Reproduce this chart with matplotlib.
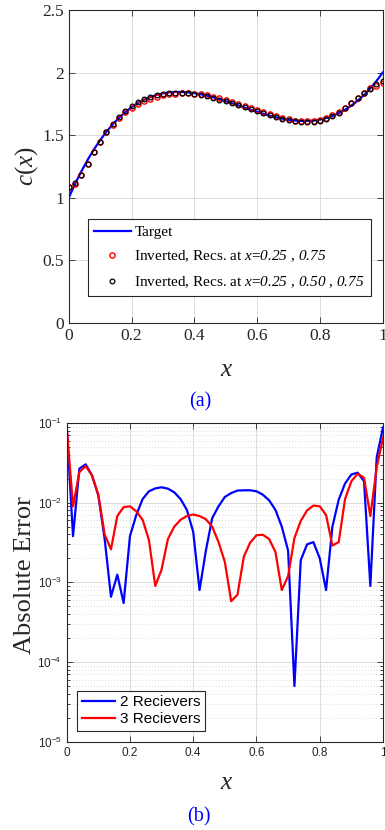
import math

import matplotlib
matplotlib.use("Agg")
import matplotlib.pyplot as plt
import matplotlib.ticker as mticker

plt.rcParams["mathtext.fontset"] = "custom"
plt.rcParams["mathtext.rm"] = "Liberation Serif"
plt.rcParams["mathtext.it"] = "Liberation Serif:italic"
plt.rcParams["mathtext.sf"] = "Liberation Serif:italic"   # used for italic digits in legend

AX_COLOR = "#262626"
GRID = "#DCDCDC"
BLUE = "#0000FF"
RED = "#FF0000"

# grid of sample points (step 0.02)
x_pts = [i / 50 for i in range(51)]

# target profile c(x)
c_target = [1.000, 1.110, 1.210, 1.302, 1.385, 1.460, 1.527, 1.586, 1.638, 1.684,
            1.723, 1.756, 1.783, 1.805, 1.822, 1.834, 1.842, 1.845, 1.845, 1.842,
            1.836, 1.827, 1.816, 1.803, 1.788, 1.772, 1.755, 1.738, 1.721, 1.703,
            1.687, 1.671, 1.656, 1.643, 1.632, 1.623, 1.617, 1.614, 1.614, 1.617,
            1.625, 1.637, 1.654, 1.676, 1.703, 1.736, 1.775, 1.820, 1.873, 1.932,
            2.000]

# inverted, receivers at x=0.25, 0.75 (red circles)
c_inv2 = [1.090, 1.114, 1.184, 1.272, 1.363, 1.447, 1.523, 1.585, 1.640, 1.685,
          1.719, 1.749, 1.772, 1.791, 1.807, 1.818, 1.827, 1.832, 1.834, 1.834,
          1.831, 1.826, 1.818, 1.809, 1.797, 1.784, 1.769, 1.752, 1.735, 1.718,
          1.701, 1.684, 1.667, 1.651, 1.637, 1.626, 1.617, 1.612, 1.611, 1.614,
          1.623, 1.638, 1.659, 1.687, 1.720, 1.758, 1.799, 1.839, 1.874, 1.896,
          1.916]

# inverted, receivers at x=0.25, 0.50, 0.75 (black circles)
c_inv3 = [1.090, 1.119, 1.186, 1.273, 1.363, 1.447, 1.523, 1.589, 1.645, 1.693,
          1.732, 1.764, 1.789, 1.809, 1.823, 1.833, 1.838, 1.840, 1.839, 1.835,
          1.829, 1.820, 1.810, 1.798, 1.785, 1.770, 1.755, 1.739, 1.723, 1.707,
          1.691, 1.675, 1.660, 1.646, 1.633, 1.622, 1.613, 1.608, 1.606, 1.608,
          1.616, 1.630, 1.651, 1.679, 1.714, 1.754, 1.798, 1.841, 1.866, 1.905,
          1.935]

# absolute error, 2 receivers (blue) and 3 receivers (red)
err_2rec = [0.09, 0.0038, 0.0267, 0.0303, 0.022, 0.0123, 0.0035, 0.00066, 0.00125, 0.00055,
            0.0038, 0.007, 0.0111, 0.0139, 0.0151, 0.0156, 0.015, 0.0135, 0.0111, 0.0081,
            0.0043, 0.0008, 0.0025, 0.0064, 0.009, 0.0118, 0.0132, 0.0142, 0.0143, 0.0143,
            0.0139, 0.0126, 0.0107, 0.0081, 0.005, 0.0025, 0.00005, 0.0019, 0.003, 0.0032,
            0.002, 0.0008, 0.005, 0.0109, 0.0174, 0.0226, 0.0238, 0.0186, 0.0009, 0.0367,
            0.088]
err_3rec = [0.09, 0.009, 0.0242, 0.0288, 0.022, 0.0126, 0.004, 0.0026, 0.0068, 0.0088,
            0.009, 0.0078, 0.0061, 0.0034, 0.0009, 0.00145, 0.0035, 0.005, 0.0061, 0.0068,
            0.0071, 0.0068, 0.0062, 0.005, 0.0032, 0.0018, 0.00058, 0.0007, 0.0021, 0.00315,
            0.0039, 0.00395, 0.0035, 0.0024, 0.0008, 0.0012, 0.0036, 0.0059, 0.008, 0.0092,
            0.009, 0.007, 0.0029, 0.0032, 0.0111, 0.0186, 0.0231, 0.0205, 0.0068, 0.0275,
            0.065]

x_ticks = [0, 0.2, 0.4, 0.6, 0.8, 1]
x_ticklabels = ["0", "0.2", "0.4", "0.6", "0.8", "1"]
c_ticks = [0, 0.5, 1, 1.5, 2, 2.5]
c_ticklabels = ["0", "0.5", "1", "1.5", "2", "2.5"]

W, H = 385, 830
fig = plt.figure(figsize=(W / 100, H / 100), dpi=100)
fig.patch.set_facecolor("white")


def px_axes(left, top, right, bottom):
    return fig.add_axes([left / W, 1 - bottom / H, (right - left) / W, (bottom - top) / H])


def style_box(ax):
    for s in ax.spines.values():
        s.set_color(AX_COLOR)
        s.set_linewidth(0.8)
    ax.tick_params(which="both", direction="in", top=True, right=True,
                   color=AX_COLOR, labelcolor=AX_COLOR, width=0.6)
    ax.tick_params(which="major", length=4)
    ax.tick_params(which="minor", length=2)
    ax.set_axisbelow(True)


# ---------------- (a) profile ----------------
ax1 = px_axes(68.7, 10, 382.7, 323)
ax1.plot(x_pts, c_target, color=BLUE, lw=1.6, label="Target", zorder=2)
ax1.plot(x_pts, c_inv2, ls="none", marker="o", ms=3.8, mfc="none", mec=RED, mew=1.0,
         label=r"Inverted, Recs. at $x$=$\mathsf{0.25}$ , $\mathsf{0.75}$", zorder=3)
ax1.plot(x_pts, c_inv3, ls="none", marker="o", ms=3.4, mfc="none", mec="black", mew=0.9,
         label=r"Inverted, Recs. at $x$=$\mathsf{0.25}$ , $\mathsf{0.50}$ , $\mathsf{0.75}$",
         zorder=4)
ax1.set_xlim(0, 1)
ax1.set_ylim(0, 2.5)
ax1.set_xticks(x_ticks)
ax1.set_xticklabels(x_ticklabels)
ax1.set_yticks(c_ticks)
ax1.set_yticklabels(c_ticklabels)
style_box(ax1)
for lab in ax1.get_xticklabels() + ax1.get_yticklabels():
    lab.set_fontfamily("Liberation Serif")
    lab.set_fontsize(12.5)
ax1.grid(True, color=GRID, lw=0.7)
ax1.set_xlabel("$x$", fontsize=18, color=AX_COLOR)
ax1.xaxis.set_label_coords(0.504, -0.147)
ax1.xaxis.label.set_va("center")
ax1.set_ylabel("$c(x)$", fontsize=18, color=AX_COLOR)
ax1.yaxis.set_label_coords(-0.133, 0.502)
ax1.yaxis.label.set_va("center")
leg1 = ax1.legend(loc="upper left", bbox_to_anchor=(0.061, 0.332), borderaxespad=0,
                  prop={"family": "Liberation Serif", "size": 11}, numpoints=1,
                  handlelength=2.4, handletextpad=0.25, labelspacing=0.65,
                  borderpad=0.4, fancybox=False, framealpha=1, edgecolor=AX_COLOR)
leg1.get_frame().set_linewidth(0.8)

fig.text(200 / W, 1 - 402 / H, "(a)", color=BLUE, fontsize=14.5,
         family="Liberation Serif", ha="center", va="center")

# ---------------- (b) absolute error ----------------
ax2 = px_axes(66.7, 423, 383, 741.7)
ax2.semilogy(x_pts, err_2rec, color=BLUE, lw=1.6, label="2 Recievers")
ax2.semilogy(x_pts, err_3rec, color=RED, lw=1.6, label="3 Recievers")
ax2.set_xlim(0, 1)
ax2.set_ylim(1e-5, 1e-1)
ax2.set_xticks(x_ticks)
ax2.set_xticklabels(x_ticklabels)
ax2.yaxis.set_major_locator(mticker.LogLocator(base=10, numticks=10))
ax2.yaxis.set_minor_locator(mticker.LogLocator(base=10, subs=range(2, 10), numticks=20))
ax2.yaxis.set_minor_formatter(mticker.NullFormatter())
ax2.yaxis.set_major_formatter(mticker.FuncFormatter(
    lambda v, _: r"$\mathregular{10^{%d}}$" % round(math.log10(v))))
style_box(ax2)
for lab in ax2.get_xticklabels() + ax2.get_yticklabels():
    lab.set_fontfamily("Liberation Sans")
    lab.set_fontsize(8.5)
ax2.grid(True, which="major", color=GRID, lw=0.7)
ax2.grid(True, which="minor", axis="y", color="#D0D0D0", lw=0.6, ls=(0, (1, 2.5)))
ax2.set_xlabel("$x$", fontsize=18, color=AX_COLOR)
ax2.xaxis.set_label_coords(0.507, -0.126)
ax2.xaxis.label.set_va("center")
ax2.set_ylabel("Absolute Error", fontsize=19, family="Liberation Serif", color=AX_COLOR)
ax2.yaxis.set_label_coords(-0.132, 0.523)
ax2.yaxis.label.set_va("center")
leg2 = ax2.legend(loc="lower left", bbox_to_anchor=(0.0326, 0.0336), borderaxespad=0,
                  prop={"family": "Liberation Sans", "size": 11}, handlelength=2.2,
                  handletextpad=0.3, labelspacing=0.2, borderpad=0.3,
                  fancybox=False, framealpha=1, edgecolor=AX_COLOR)
leg2.get_frame().set_linewidth(0.8)

fig.text(199 / W, 1 - 817 / H, "(b)", color=BLUE, fontsize=14.5,
         family="Liberation Serif", ha="center", va="center")

fig.savefig("out.png", dpi=100, facecolor="white")
